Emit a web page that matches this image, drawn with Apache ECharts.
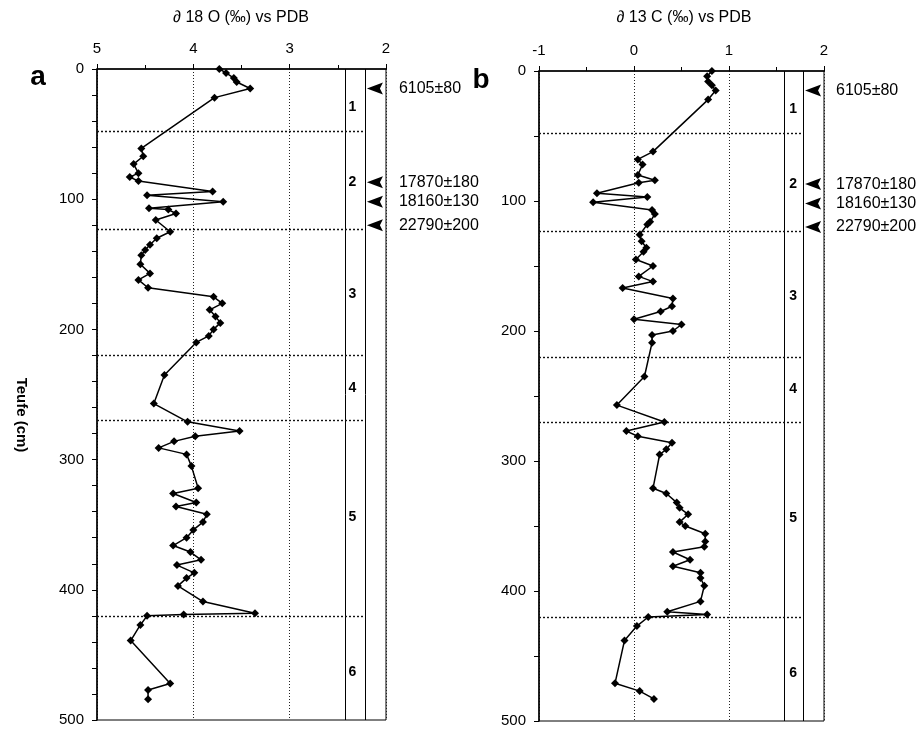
<!DOCTYPE html>
<html>
<head>
<meta charset="utf-8">
<title>Isotopenprofil</title>
<script src="https://cdn.jsdelivr.net/npm/echarts@6/dist/echarts.min.js"></script>
</head>
<body style="margin:0;background:#fff">
<div id="main" style="width:922px;height:730px;"></div>
<script type="text/javascript">
    // Teufe (cm) und delta 18 O, Profil a
    var depthA = [0, 3, 7, 10, 15, 22, 61, 67, 73, 80, 83, 86, 94, 97, 102, 107, 108, 111, 116, 125,
        130, 135, 139, 143, 150, 157, 162, 168, 175, 180, 185, 190, 195, 200, 205, 210, 235, 257, 271, 278,
        282, 286, 291, 296, 305, 322, 326, 333, 336, 342, 348, 354, 360, 366, 371, 377, 381, 387, 391, 397,
        409, 418, 419, 420, 427, 439, 472, 477, 484];
    var d18O = [3.73, 3.66, 3.58, 3.55, 3.41, 3.78, 4.54, 4.52, 4.62, 4.57, 4.66, 4.57, 3.80, 4.48, 3.69, 4.46, 4.26, 4.18, 4.39, 4.24,
        4.38, 4.45, 4.50, 4.54, 4.55, 4.45, 4.57, 4.47, 3.79, 3.70, 3.83, 3.77, 3.72, 3.79, 3.84, 3.97, 4.30, 4.41, 4.06, 3.52,
        3.98, 4.20, 4.36, 4.07, 4.02, 3.95, 4.21, 3.97, 4.18, 3.86, 3.90, 4.00, 4.07, 4.21, 4.03, 3.92, 4.17, 3.99, 4.07, 4.16,
        3.90, 3.36, 4.10, 4.48, 4.55, 4.65, 4.24, 4.47, 4.47];

    // Teufe (cm) und delta 13 C, Profil b
    var depthB = [0, 4, 8, 11, 15, 22, 62, 68, 72, 80, 84, 86, 94, 97, 101, 107, 110, 116, 118, 126,
        131, 136, 139, 145, 150, 158, 162, 167, 175, 181, 185, 191, 195, 200, 203, 209, 235, 257, 270, 277,
        281, 286, 291, 295, 321, 325, 332, 336, 341, 347, 350, 356, 362, 366, 370, 376, 381, 386, 390, 396,
        408, 416, 418, 420, 427, 438, 471, 477, 483];
    var d13C = [0.82, 0.77, 0.78, 0.82, 0.86, 0.78, 0.20, 0.04, 0.09, 0.04, 0.22, 0.05, -0.39, 0.14, -0.43, 0.19, 0.22, 0.17, 0.14, 0.06,
        0.08, 0.13, 0.10, 0.02, 0.20, 0.05, 0.20, -0.12, 0.41, 0.40, 0.28, 0.00, 0.50, 0.41, 0.19, 0.19, 0.11, -0.18, 0.32, -0.08,
        0.04, 0.40, 0.34, 0.27, 0.20, 0.34, 0.45, 0.48, 0.57, 0.48, 0.54, 0.75, 0.75, 0.74, 0.41, 0.59, 0.41, 0.70, 0.70, 0.74,
        0.70, 0.35, 0.77, 0.15, 0.03, -0.10, -0.20, 0.06, 0.21];

    // Zonengrenzen und Zonennummern
    var zoneBounds = [48, 123, 220, 270, 420];
    var zoneNames = ['1', '2', '3', '4', '5', '6'];
    var zoneNameDepth = [29, 87, 173, 245, 344, 463];

    // Datierungen (Pfeile)
    var dateDepth = [15, 87, 102, 120];
    var dateLabels = ['6105±80', '17870±180', '18160±130', '22790±200'];

    // Achsen
    var ticksA = [2, 5];
    var ticksB = [-1, 2];

    var font = '"Liberation Sans", Arial, Helvetica, sans-serif';
    // nach links zeigendes Dreieck
    var arrowPath = 'path://M0,6 L16,0 L13,6 L16,12 Z';

    var mainComponent = document.getElementById('main');
    var myChart = echarts.init(mainComponent);

    function pairs(xs, ys) {
        var out = [];
        for (var i = 0; i < xs.length; i++) {
            out.push([xs[i], ys[i]]);
        }
        return out;
    }

    function panelSeries(idx, values, depths, p) {
        var marks = [
            {xAxis: p.colLeft, lineStyle: {type: 'solid', width: 1, color: '#000'}},
            {xAxis: p.colRight, lineStyle: {type: 'solid', width: 1, color: '#000'}}
        ];
        for (var i = 0; i < zoneBounds.length; i++) {
            marks.push([
                {coord: [p.lineStart, zoneBounds[i]], lineStyle: {type: [2, 2], width: 1.4, color: '#111'}},
                {coord: [p.colRight, zoneBounds[i]]}
            ]);
        }
        var arrows = [];
        for (var j = 0; j < dateDepth.length; j++) {
            arrows.push([p.arrowX, dateDepth[j]]);
        }
        var zoneTexts = [];
        for (var k = 0; k < zoneNames.length; k++) {
            zoneTexts.push([p.zoneX, zoneNameDepth[k]]);
        }
        return [
            {
                type: 'line',
                xAxisIndex: idx,
                yAxisIndex: idx,
                data: pairs(values, depths),
                symbol: 'diamond',
                symbolSize: 8,
                showSymbol: true,
                color: '#000',
                itemStyle: {color: '#000', opacity: 1},
                lineStyle: {width: 1.5, color: '#000'},
                z: 5,
                markLine: {
                    silent: true,
                    symbol: 'none',
                    label: {show: false},
                    animation: false,
                    data: marks
                }
            },
            {
                type: 'scatter',
                xAxisIndex: idx,
                yAxisIndex: idx,
                data: arrows,
                symbol: arrowPath,
                symbolSize: [16, 12],
                itemStyle: {color: '#000', opacity: 1},
                clip: false,
                label: {
                    show: true,
                    position: 'inside',
                    align: 'left',
                    offset: [p.labelGap, 0],
                    color: '#000',
                    textBorderWidth: 0,
                    opacity: 1,
                    fontSize: 16,
                    fontFamily: font,
                    formatter: function (d) { return dateLabels[d.dataIndex]; }
                }
            },
            {
                type: 'scatter',
                xAxisIndex: idx,
                yAxisIndex: idx,
                data: zoneTexts,
                symbolSize: 1,
                itemStyle: {color: 'rgba(0,0,0,0)'},
                label: {
                    show: true,
                    position: 'inside',
                    color: '#000',
                    textBorderWidth: 0,
                    opacity: 1,
                    fontSize: 14,
                    fontWeight: 'bold',
                    fontFamily: font,
                    formatter: function (d) { return zoneNames[d.dataIndex]; }
                }
            }
        ];
    }

    function xAxisFor(idx, range, inverse) {
        return {
            gridIndex: idx,
            type: 'value',
            position: 'top',
            min: range[0],
            max: range[1],
            interval: 1,
            inverse: inverse,
            axisLine: {show: true, onZero: false, lineStyle: {color: '#000', width: 1.5}},
            axisTick: {show: true, length: 5, lineStyle: {color: '#000'}},
            minorTick: {show: true, splitNumber: 2, length: 4, lineStyle: {color: '#000'}},
            axisLabel: {color: '#000', fontSize: 15, margin: 13, fontFamily: font},
            splitLine: {show: true, lineStyle: {color: '#222', type: [1, 2], width: 1}}
        };
    }

    function yAxisFor(idx, minorSplit) {
        return {
            gridIndex: idx,
            type: 'value',
            min: 0,
            max: 500,
            interval: 100,
            inverse: true,
            axisLine: {show: true, onZero: false, lineStyle: {color: '#000', width: 1.5}},
            axisTick: {show: true, length: 5, lineStyle: {color: '#000'}},
            minorTick: {show: true, splitNumber: minorSplit, length: 5, lineStyle: {color: '#000'}},
            axisLabel: {color: '#000', fontSize: 15, margin: 13, fontFamily: font},
            splitLine: {show: false}
        };
    }

    var panelA = {colLeft: 2.42, colRight: 2.22, lineStart: 5, arrowX: 2.115, labelGap: 24, zoneX: 2.35};
    var panelB = {colLeft: 1.58, colRight: 1.78, lineStart: -1, arrowX: 1.885, labelGap: 23, zoneX: 1.675};

    var option = {
        animation: false,
        backgroundColor: '#fff',
        textStyle: {fontFamily: font},
        grid: [
            {left: 97, top: 69, width: 289, height: 651, show: true, borderColor: '#000', borderWidth: 1},
            {left: 539, top: 71, width: 285, height: 650, show: true, borderColor: '#000', borderWidth: 1}
        ],
        xAxis: [xAxisFor(0, ticksA, true), xAxisFor(1, ticksB, false)],
        yAxis: [yAxisFor(0, 5), yAxisFor(1, 2)],
        series: panelSeries(0, d18O, depthA, panelA).concat(panelSeries(1, d13C, depthB, panelB)),
        graphic: [
            {type: 'text', x: 241, y: 18, style: {text: '∂ 18 O (‰) vs PDB', font: '16px ' + font, fill: '#000', textAlign: 'center', textVerticalAlign: 'middle'}},
            {type: 'text', x: 684, y: 18, style: {text: '∂ 13 C (‰) vs PDB', font: '16px ' + font, fill: '#000', textAlign: 'center', textVerticalAlign: 'middle'}},
            {type: 'text', x: 38, y: 77, style: {text: 'a', font: 'bold 28px ' + font, fill: '#000', textAlign: 'center', textVerticalAlign: 'middle'}},
            {type: 'text', x: 481, y: 80, style: {text: 'b', font: 'bold 28px ' + font, fill: '#000', textAlign: 'center', textVerticalAlign: 'middle'}},
            {type: 'text', x: 21, y: 415, rotation: -Math.PI / 2, style: {text: 'Teufe (cm)', font: 'bold 15px ' + font, fill: '#000', textAlign: 'center', textVerticalAlign: 'middle'}}
        ]
    };

    myChart.setOption(option);
</script>
</body>
</html>
